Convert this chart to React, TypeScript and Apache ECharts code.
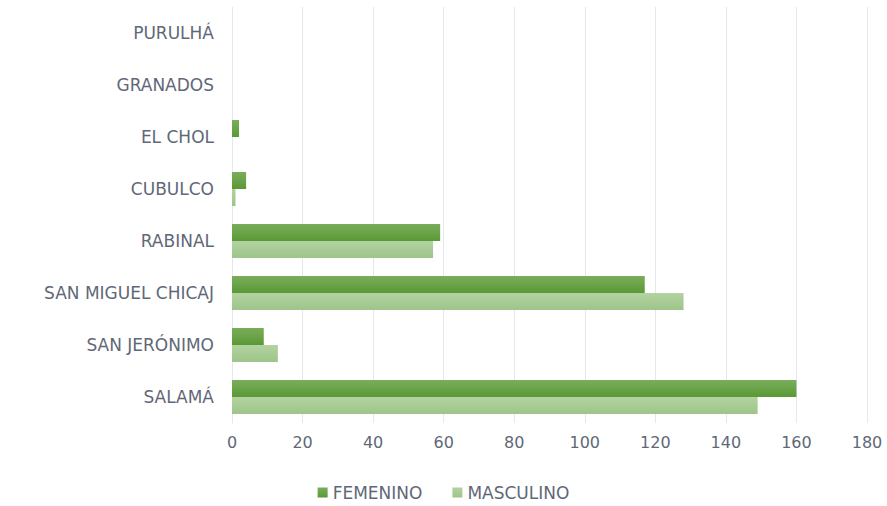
import React, { useEffect, useRef } from "react";
import * as echarts from "echarts";

const categories = ["SALAMÁ", "SAN JERÓNIMO", "SAN MIGUEL CHICAJ", "RABINAL", "CUBULCO", "EL CHOL", "GRANADOS", "PURULHÁ"];
const femenino = [160, 9, 117, 59, 4, 2, 0, 0];
const masculino = [149, 13, 128, 57, 1, 0, 0, 0];
const xTicks = { min: 0, max: 180, interval: 20 };

const FONT = "'DejaVu Sans', sans-serif";
const TEXT = "#5f6877";

export default function App() {
  const ref = useRef<HTMLDivElement>(null);
  useEffect(() => {
    document.body.style.margin = "0";
    const chart = echarts.init(ref.current!, null, { renderer: "svg" });
    chart.setOption({
      animation: false,
      backgroundColor: "#ffffff",
      grid: { left: 232, right: 20, top: 7, bottom: 83 },
      legend: {
        bottom: 0,
        left: "center",
        itemWidth: 10,
        itemHeight: 10,
        itemGap: 30,
        icon: "rect",
        textStyle: { color: TEXT, fontSize: 17, fontFamily: FONT },
        data: ["FEMENINO", "MASCULINO"],
      },
      xAxis: {
        type: "value",
        min: xTicks.min,
        max: xTicks.max,
        interval: xTicks.interval,
        axisLine: { show: false },
        axisTick: { show: false },
        splitLine: { show: true, lineStyle: { color: "#e4e7ed", width: 1 } },
        axisLabel: { color: TEXT, fontSize: 16, fontFamily: FONT, margin: 11 },
      },
      yAxis: {
        type: "category",
        data: categories,
        axisLine: { show: true, lineStyle: { color: "#e4e7ed" } },
        axisTick: { show: false },
        axisLabel: { color: TEXT, fontSize: 17, fontFamily: FONT, margin: 18 },
      },
      series: [
        {
          name: "FEMENINO",
          type: "bar",
          data: femenino,
          barWidth: 17,
          barGap: "0%",
          itemStyle: {
            color: new echarts.graphic.LinearGradient(0, 0, 0, 1, [
              { offset: 0, color: "#7aad5b" },
              { offset: 1, color: "#5a9936" },
            ]),
          },
        },
        {
          name: "MASCULINO",
          type: "bar",
          data: masculino,
          barWidth: 17,
          barGap: "0%",
          itemStyle: {
            color: new echarts.graphic.LinearGradient(0, 0, 0, 1, [
              { offset: 0, color: "#b3d3a0" },
              { offset: 1, color: "#9ec48a" },
            ]),
          },
        },
      ],
    });
    return () => chart.dispose();
  }, []);
  return <div ref={ref} style={{ width: 887, height: 506 }} />;
}
